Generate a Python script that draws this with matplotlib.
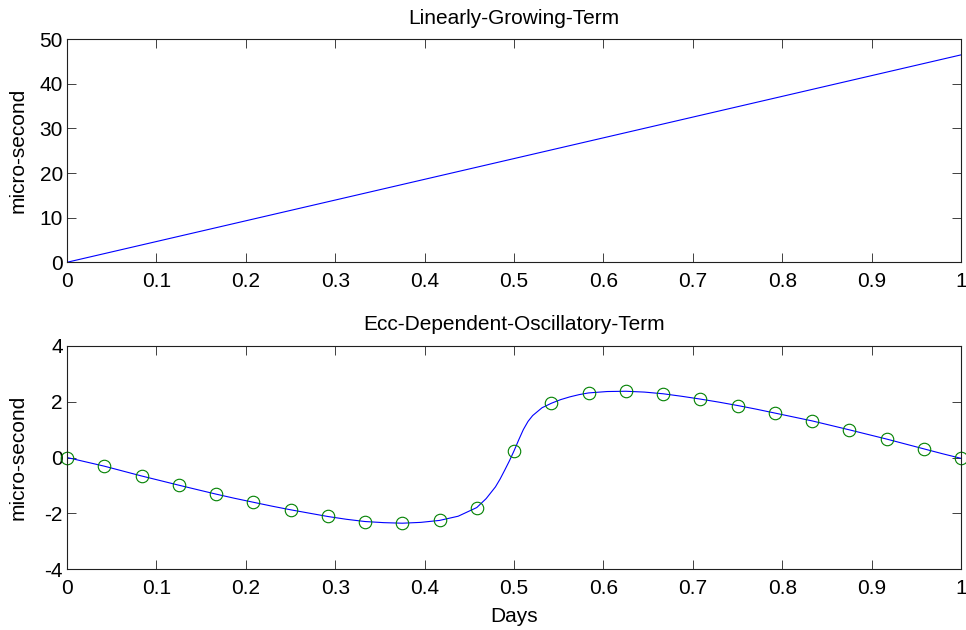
import matplotlib
matplotlib.use("Agg")
import matplotlib.pyplot as plt

# --------------------------------------------------
# DATA
# --------------------------------------------------
lin_days = [0.0, 1.0]
lin_us = [0.0, 46.5]

# sampled points (green circles), every 1/24 day
mark_days = [k / 24 for k in range(25)]
mark_us = [0.00, -0.31, -0.66, -0.99, -1.31, -1.60, -1.87, -2.11, -2.29,
           -2.35, -2.25, -1.79, 0.24, 1.94, 2.31, 2.37, 2.28, 2.09, 1.86,
           1.59, 1.31, 0.99, 0.66, 0.31, -0.03]

# dense curve (blue line)
curve_days = [0.0, 0.0208, 0.0417, 0.0625, 0.0833, 0.1042, 0.125, 0.1458,
              0.1667, 0.1875, 0.2083, 0.2292, 0.25, 0.2708, 0.2917, 0.3125,
              0.3333, 0.3542, 0.375, 0.3958, 0.4167, 0.4375, 0.4583, 0.4688,
              0.4792, 0.4844, 0.4896, 0.4948, 0.5, 0.5052, 0.5104, 0.5156,
              0.5208, 0.5313, 0.5417, 0.5521, 0.5625, 0.5729, 0.5833,
              0.6042, 0.625, 0.6458, 0.6667, 0.6875, 0.7083, 0.7292, 0.75,
              0.7708, 0.7917, 0.8125, 0.8333, 0.8542, 0.875, 0.8958, 0.9167,
              0.9375, 0.9583, 0.9792, 1.0]
curve_us = [0.0, -0.155, -0.31, -0.485, -0.66, -0.825, -0.99, -1.15,
            -1.31, -1.46, -1.60, -1.74, -1.87, -1.99, -2.11, -2.21,
            -2.29, -2.33, -2.35, -2.32, -2.25, -2.10, -1.79, -1.47,
            -1.05, -0.77, -0.45, -0.12, 0.24, 0.63, 1.00, 1.29,
            1.50, 1.78, 1.94, 2.07, 2.17, 2.25, 2.31,
            2.36, 2.37, 2.34, 2.28, 2.19, 2.09, 1.98, 1.86,
            1.73, 1.59, 1.45, 1.31, 1.15, 0.99, 0.825, 0.66,
            0.485, 0.31, 0.135, -0.03]

x_ticks = [0, 0.1, 0.2, 0.3, 0.4, 0.5, 0.6, 0.7, 0.8, 0.9, 1]
x_labels = ["0", "0.1", "0.2", "0.3", "0.4", "0.5", "0.6", "0.7", "0.8", "0.9", "1"]

# --------------------------------------------------
# STYLE
# --------------------------------------------------
plt.rcParams["font.family"] = ["Liberation Sans", "DejaVu Sans"]
plt.rcParams["axes.unicode_minus"] = False
FS = 15

fig = plt.figure(figsize=(9.66, 6.30), dpi=100)
ax1 = fig.add_axes([0.0694, 0.5837, 0.9255, 0.354])
ax2 = fig.add_axes([0.0694, 0.0963, 0.9255, 0.355])


def matlab_axes(ax):
    ax.tick_params(direction="in", length=6.5, width=0.7, top=True, right=True,
                   labelsize=FS, pad=3, color="#404040")
    ax.tick_params(axis="x", pad=7.3)
    for s in ax.spines.values():
        s.set_linewidth(0.8)
        s.set_color("#202020")
    ax.set_xlim(0, 1)
    ax.set_xticks(x_ticks)
    ax.set_xticklabels(x_labels)


# top: linear term
ax1.plot(lin_days, lin_us, color="#0000ff", lw=0.8)
ax1.set_ylim(0, 50)
ax1.set_yticks([0, 10, 20, 30, 40, 50])
matlab_axes(ax1)
ax1.set_ylabel("micro-second", fontsize=FS)
ax1.yaxis.set_label_coords(-0.0447, 0.5)
ax1.set_title("Linearly-Growing-Term", fontsize=FS, pad=11)

# bottom: oscillatory term
ax2.plot(curve_days, curve_us, color="#0000ff", lw=0.8)
ax2.plot(mark_days, mark_us, "o", mfc="none", mec="#008000", ms=9, mew=0.8,
         clip_on=False)
ax2.set_ylim(-4, 4)
ax2.set_yticks([-4, -2, 0, 2, 4])
matlab_axes(ax2)
ax2.set_ylabel("micro-second", fontsize=FS)
ax2.yaxis.set_label_coords(-0.0447, 0.5)
ax2.set_xlabel("Days", fontsize=FS, labelpad=6)
ax2.set_title("Ecc-Dependent-Oscillatory-Term", fontsize=FS, pad=11)

fig.savefig("out.png", dpi=100)
